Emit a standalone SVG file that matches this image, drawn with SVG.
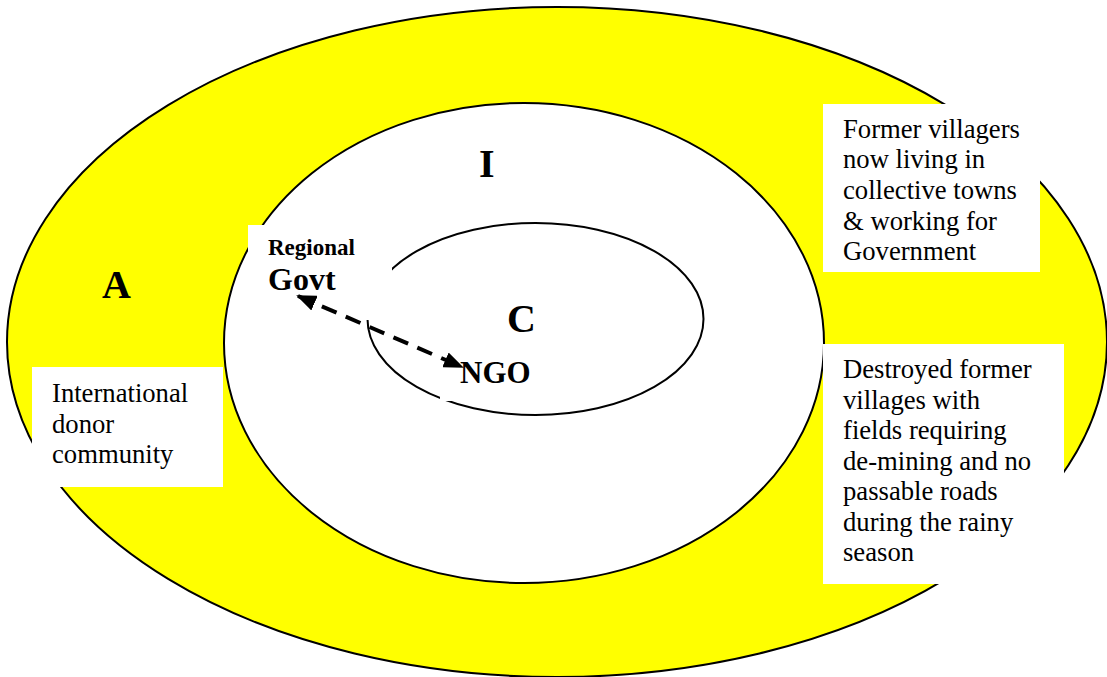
<svg xmlns="http://www.w3.org/2000/svg" width="1107" height="677" viewBox="0 0 1107 677">
<style>
.ring{stroke:#000;stroke-width:2}
.box{fill:#fff;stroke:none}
.t{font-family:"Liberation Serif","Times New Roman",serif;font-size:26.67px;fill:#000}
.b{font-family:"Liberation Serif","Times New Roman",serif;font-weight:bold;fill:#000}
</style>
<defs>
<marker id="ah" markerUnits="userSpaceOnUse" markerWidth="20" markerHeight="16" viewBox="0 0 20 16" refX="18" refY="8" orient="auto-start-reverse">
<path d="M0,0 L20,8 L0,16 Z" fill="#000"/>
</marker>
</defs>
<rect width="1107" height="677" fill="#fff"/>
<g id="outer-A">
<ellipse class="ring" cx="557" cy="342" rx="550" ry="335" fill="#ffff00"/>
<text class="b" x="102" y="298" font-size="40">A</text>
</g>
<g id="middle-I">
<ellipse class="ring" cx="524" cy="343" rx="300" ry="240" fill="#fff"/>
<text class="b" x="479" y="177" font-size="40">I</text>
</g>
<g id="inner-C">
<ellipse class="ring" cx="535.5" cy="319" rx="168" ry="96" fill="none"/>
<text class="b" x="507" y="332" font-size="40">C</text>
</g>
<g id="regional-govt">
<rect class="box" x="248" y="225" width="144" height="95"/>
<text class="b" x="268" y="255" font-size="23">Regional</text>
<text class="b" x="268" y="290" font-size="32">Govt</text>
</g>
<g id="ngo">
<rect class="box" x="440" y="345" width="100" height="56"/>
<text class="b" x="460" y="383" font-size="31">NGO</text>
</g>
<g id="former-villagers">
<rect class="box" x="823" y="104" width="217" height="168"/>
<text class="t" x="843"><tspan x="843" y="137.5">Former villagers</tspan><tspan x="843" y="168.2">now living in</tspan><tspan x="843" y="198.9">collective towns</tspan><tspan x="843" y="229.6">&amp; working for</tspan><tspan x="843" y="260.3">Government</tspan></text>
</g>
<g id="destroyed-villages">
<rect class="box" x="823" y="344" width="241" height="240"/>
<text class="t"><tspan x="843" y="378.3">Destroyed former</tspan><tspan x="843" y="408.8">villages with</tspan><tspan x="843" y="439.3">fields requiring</tspan><tspan x="843" y="469.8">de-mining and no</tspan><tspan x="843" y="500.3">passable roads</tspan><tspan x="843" y="530.8">during the rainy</tspan><tspan x="843" y="561.3">season</tspan></text>
</g>
<g id="international-donors">
<rect class="box" x="32" y="367" width="191" height="120"/>
<text class="t"><tspan x="52" y="402">International</tspan><tspan x="52" y="432.5">donor</tspan><tspan x="52" y="463">community</tspan></text>
</g>
<g id="connectors">
<line x1="298" y1="296" x2="462" y2="367" stroke="#000" stroke-width="4" stroke-dasharray="16 10" marker-start="url(#ah)" marker-end="url(#ah)"/>
</g>
</svg>
